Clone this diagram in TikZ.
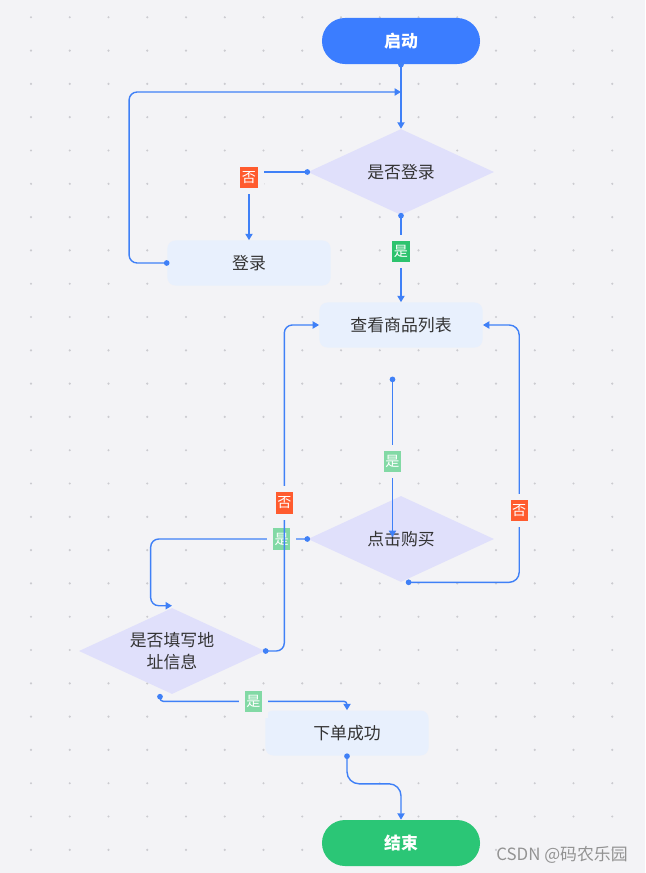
\documentclass[tikz,border=0pt]{standalone}
\usepackage{fontspec}
\setmainfont{Noto Sans CJK SC}
\usetikzlibrary{arrows.meta,shapes.geometric}
\definecolor{bgcol}{HTML}{F3F3F6}
\definecolor{tockacol}{HTML}{CBCBD0}
\definecolor{plava}{HTML}{3B7DFF}
\definecolor{zelena}{HTML}{2BC676}
\definecolor{korakcol}{HTML}{E8F0FD}
\definecolor{pitcol}{HTML}{E0E0FB}
\definecolor{linija}{HTML}{3F80F7}
\definecolor{necol}{HTML}{FF5B2E}
\definecolor{dacol}{HTML}{2DC36E}
\definecolor{dasvetla}{HTML}{82D9A5}
\definecolor{tekst}{HTML}{333333}
\tikzset{
  kraj/.style={rectangle,rounded corners=0.575cm,minimum width=3.95cm,minimum height=1.15cm,
               text=white,font=\fontsize{12pt}{14pt}\selectfont\bfseries},
  korak/.style={rectangle,rounded corners=0.2cm,fill=korakcol,minimum width=4.08cm,
                minimum height=1.125cm,text=tekst,font=\fontsize{12pt}{14pt}\selectfont},
  pitanje/.style={diamond,fill=pitcol,minimum width=4.65cm,minimum height=2.15cm,inner sep=0pt,
                  aspect=2.2,align=center,text=tekst,font=\fontsize{12pt}{15.5pt}\selectfont},
  veza/.style={{Circle[length=1.4mm]}-{Triangle[length=1.6mm,width=1.8mm]},line width=1pt,
               draw=linija,shorten <=-0.6mm},
  oznaka/.style={sharp corners,draw=bgcol,line width=0.15cm,minimum width=0.58cm,
                 minimum height=0.68cm,inner sep=0pt,text=white,font=\fontsize{10pt}{11pt}\selectfont},
  ne/.style={oznaka,fill=necol},
  da/.style={oznaka,fill=dacol},
  dal/.style={oznaka,fill=dasvetla},
}
\begin{document}
\begin{tikzpicture}[x=0.025cm,y=-0.025cm]

  % ---------- pozadina sa tackama ----------
  \fill[bgcol] (0,0) rectangle (645,873);
  \foreach \i in {0,...,15}
    \foreach \j in {0,...,25}
      \fill[tockacol] (31+38.75*\i,17.3+33.3*\j) circle (0.03cm);

  % ---------- cvorovi ----------
  \node[kraj,fill=plava] (start) at (401,41) {启动};
  \node[pitanje] (q1) at (401,172) {是否登录};
  \node[korak] (login) at (249,263) {登录};
  \node[korak] (list) at (401,325) {查看商品列表};
  \node[pitanje] (q2) at (401,539) {点击购买};
  \node[pitanje] (q3) at (172,651) {是否填写地\\址信息};
  \node[korak] (done) at (347,733) {下单成功};
  \node[kraj,fill=zelena] (end) at (401,843) {结束};

  \coordinate (j1) at (401,92);
  \coordinate (ka) at (392.5,379);
  \coordinate (kb) at (392.5,537);

  % ---------- veze ----------
  \draw[veza] (start) -- (q1);
  \draw[veza,rounded corners=0.2cm] (login.west) -- ++(-38,0) |- (j1);
  \draw[veza] (q1.west) -| node[ne,yshift=-0.13cm]{否} (login.north);
  \draw[veza] (q1.south) -- node[da,pos=0.42]{是} (list.north);
  \draw[veza] (ka) -- node[dal,pos=0.52]{是} (kb);
  \draw[veza,rounded corners=0.25cm] ([xshift=0.18cm]q2.south) -- ++(111,0)
       |- node[ne,pos=0.14]{否} (list.east);
  \draw[veza,rounded corners=0.2cm] (q2.west) -- node[dal,pos=0.166]{是} ++(-157,0)
       |- ([yshift=0.05cm]q3.north);
  \draw[veza,rounded corners=0.2cm] (q3.east) -- ++(19,0) |- node[ne,pos=0.227]{否} (list.west);
  \draw[veza,rounded corners=0.08cm] ([xshift=-0.3cm,yshift=-0.05cm]q3.south) -- ++(0,5)
       -| node[dal,pos=0.25]{是} (done.north);
  \draw[veza,rounded corners=0.3cm] (done.south) -- ++(0,28) -| (end.north);

  % ---------- vodeni zig ----------
  \node[text=gray!85,font=\fontsize{12pt}{14pt}\selectfont] (wm) at (562,855) {CSDN @码农乐园};

\end{tikzpicture}
\end{document}
